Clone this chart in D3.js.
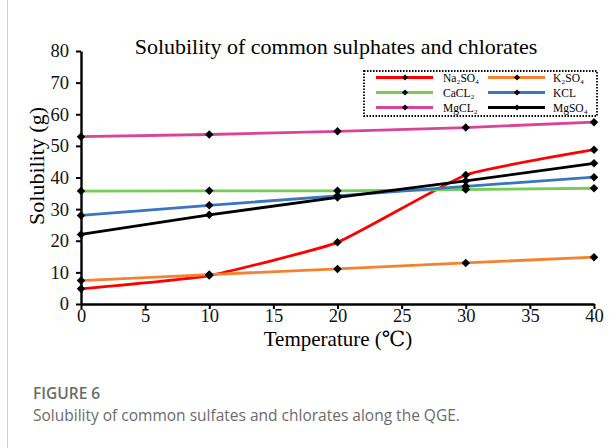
<!DOCTYPE html>
<html>
<head>
<meta charset="utf-8">
<script src="https://cdn.jsdelivr.net/npm/d3@7"></script>
<style>
  body { margin: 0; background: #fff; }
  svg { display: block; }
</style>
</head>
<body>
<div id="chart-area"></div>
<script>
const temps = [0, 10, 20, 30, 40];
const na2so4 = [4.8, 9.0, 19.5, 40.8, 48.8];
const k2so4 = [7.4, 9.3, 11.1, 13.0, 14.8];
const cacl2 = [35.7, 35.8, 35.8, 36.2, 36.6];
const kcl = [28.0, 31.2, 34.2, 37.2, 40.1];
const mgcl2 = [52.9, 53.6, 54.6, 55.8, 57.5];
const mgso4 = [22.0, 28.2, 33.7, 38.9, 44.5];
const xTicks = [0, 5, 10, 15, 20, 25, 30, 35, 40];
const yTicks = [0, 10, 20, 30, 40, 50, 60, 70, 80];

const series = [
  {name: 'Na₂SO₄', values: na2so4, color: '#ff0000', smooth: true},
  {name: 'K₂SO₄', values: k2so4, color: '#f4822f'},
  {name: 'CaCL₂', values: cacl2, color: '#77cc55'},
  {name: 'KCL', values: kcl, color: '#3a75c0'},
  {name: 'MgCL₂', values: mgcl2, color: '#d9449a'},
  {name: 'MgSO₄', values: mgso4, color: '#000000'}
];

const svg = d3.select('#chart-area')
  .append('svg')
  .attr('width', 614)
  .attr('height', 448);

// card border on the left
svg.append('line')
  .attr('x1', 7.5).attr('x2', 7.5)
  .attr('y1', 0).attr('y2', 448)
  .attr('stroke', '#d0d0d0');

const x = d3.scaleLinear().domain([0, 40]).range([81, 594]);
const y = d3.scaleLinear().domain([0, 80]).range([304, 51]);

const serif = '"Liberation Serif", "DejaVu Serif", serif';

// axes
const xAxis = svg.append('g')
  .attr('transform', `translate(0, ${y(0)})`)
  .call(d3.axisBottom(x).tickValues(xTicks).tickSize(5).tickSizeOuter(0));
const yAxis = svg.append('g')
  .attr('transform', `translate(${x(0)}, 0)`)
  .call(d3.axisLeft(y).tickValues(yTicks).tickSize(5).tickSizeOuter(0));

[xAxis, yAxis].forEach(a => {
  a.select('.domain').attr('stroke', '#000').attr('stroke-width', 2.4);
  a.selectAll('.tick line').attr('stroke', '#000').attr('stroke-width', 2);
  a.selectAll('.tick text')
    .attr('font-family', serif)
    .attr('font-size', '18.5px')
    .attr('fill', '#111');
});
xAxis.selectAll('.tick text').attr('y', 3).attr('dy', '0.8em');
yAxis.selectAll('.tick text').attr('x', -12);

// lines
const line = d3.line()
  .x((d, i) => x(temps[i]))
  .y(d => y(d));

series.forEach(s => {
  svg.append('path')
    .datum(s.values)
    .attr('fill', 'none')
    .attr('stroke', s.color)
    .attr('stroke-width', 2.8)
    .attr('d', line.curve(s.smooth ? d3.curveCardinal.tension(0.6) : d3.curveLinear));
});

// diamond markers: rotated squares
series.forEach(s => {
  svg.append('g')
    .selectAll('rect')
    .data(s.values)
    .enter()
    .append('rect')
    .attr('x', -3).attr('y', -3)
    .attr('width', 6).attr('height', 6)
    .attr('fill', '#000')
    .attr('transform', (d, i) => `translate(${x(temps[i])}, ${y(d)}) rotate(45)`);
});

// title
svg.append('text')
  .attr('x', 336)
  .attr('y', 54)
  .attr('text-anchor', 'middle')
  .attr('font-family', serif)
  .attr('font-size', '22px')
  .text('Solubility of common sulphates and chlorates');

// axis labels
svg.append('text')
  .attr('x', 338)
  .attr('y', 346)
  .attr('text-anchor', 'middle')
  .attr('font-family', serif)
  .attr('font-size', '21px')
  .text('Temperature (℃)');

svg.append('text')
  .attr('transform', 'rotate(-90)')
  .attr('x', -166)
  .attr('y', 44)
  .attr('text-anchor', 'middle')
  .attr('font-family', serif)
  .attr('font-size', '22px')
  .text('Solubility (g)');

// legend
const legend = svg.append('g');
legend.append('rect')
  .attr('x', 364).attr('y', 71)
  .attr('width', 233).attr('height', 45)
  .attr('fill', 'none')
  .attr('stroke', '#000')
  .attr('stroke-width', 1.8)
  .attr('stroke-dasharray', '1.5,1.5');

series.forEach((s, i) => {
  const col = i % 2;
  const row = Math.floor(i / 2);
  const lx = col === 0 ? 376 : 488;
  const ly = 77.5 + row * 15;
  const item = legend.append('g').attr('transform', `translate(${lx}, ${ly})`);
  item.append('line')
    .attr('x1', 0).attr('x2', 57)
    .attr('stroke', s.color)
    .attr('stroke-width', 2.8);
  item.append('rect')
    .attr('x', -2.2).attr('y', -2.2)
    .attr('width', 4.4).attr('height', 4.4)
    .attr('transform', 'translate(29, 0) rotate(45)')
    .attr('fill', '#000');
  item.append('text')
    .attr('x', col === 0 ? 67 : 65)
    .attr('y', 4)
    .attr('font-family', serif)
    .attr('font-size', '11.5px')
    .text(s.name);
});

// caption
svg.append('text')
  .attr('x', 33)
  .attr('y', 399)
  .attr('font-family', '"Open Sans", "Noto Sans", sans-serif')
  .attr('font-size', '15.5px')
  .attr('font-weight', 600)
  .attr('fill', '#6b6b6b')
  .text('FIGURE 6');

svg.append('text')
  .attr('x', 33)
  .attr('y', 421)
  .attr('font-family', '"Open Sans", "Noto Sans", sans-serif')
  .attr('font-size', '15.5px')
  .attr('fill', '#6b6b6b')
  .text('Solubility of common sulfates and chlorates along the QGE.');
</script>
</body>
</html>
